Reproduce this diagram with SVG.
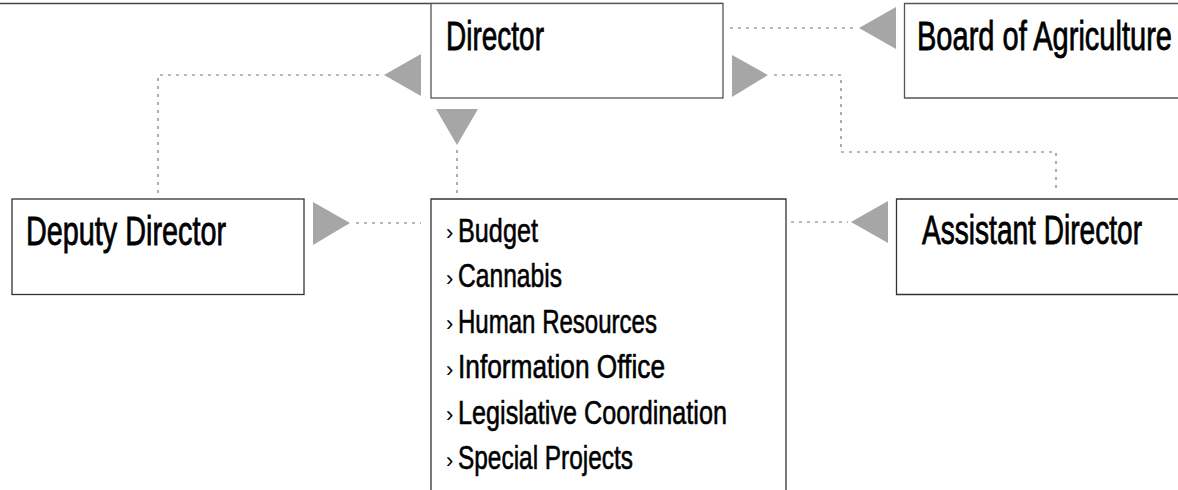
<svg xmlns="http://www.w3.org/2000/svg" width="1178" height="490" viewBox="0 0 1178 490">
<style>
.box{fill:#fff;stroke:#333;stroke-width:1.3}
.boxtop{fill:#fff;stroke:#555;stroke-width:1.3}
.h{font-family:"Liberation Sans Narrow","Liberation Sans","DejaVu Sans Condensed",sans-serif;font-size:41px;fill:#000;stroke:#000;stroke-width:0.8}
.li{font-family:"Liberation Sans Narrow","Liberation Sans","DejaVu Sans Condensed",sans-serif;font-size:34px;fill:#000;stroke:#000;stroke-width:0.6}
.ch{font-family:"Liberation Sans Narrow","Liberation Sans",sans-serif;font-size:22px;fill:#000}
.dot{fill:none;stroke:#777;stroke-width:1.2;stroke-dasharray:3 5}
.arr{fill:#a6a6a6}
</style>
<rect width="1178" height="490" fill="#fff"/>
<line x1="0" y1="3.5" x2="723" y2="3.5" stroke="#444" stroke-width="1.5"/>
<g id="director">
<rect class="boxtop" x="431" y="3.5" width="292" height="94.5"/>
<text class="h" x="446" y="50" textLength="98" lengthAdjust="spacingAndGlyphs">Director</text>
</g>
<g id="board">
<path class="boxtop" d="M1178,3.5 H904.5 V98 H1178"/>
<text class="h" x="917" y="50" textLength="255" lengthAdjust="spacingAndGlyphs">Board of Agriculture</text>
</g>
<g id="deputy">
<rect class="box" x="12" y="199" width="292" height="95.5"/>
<text class="h" x="26" y="245" textLength="200" lengthAdjust="spacingAndGlyphs">Deputy Director</text>
</g>
<g id="assistant">
<path class="box" d="M1178,199 H896.5 V294.5 H1178"/>
<text class="h" x="922" y="244" textLength="220" lengthAdjust="spacingAndGlyphs">Assistant Director</text>
</g>
<g id="units">
<path class="box" d="M431,500 V199 H786 V500"/>
<text class="ch" x="446" y="240">›</text>
<text class="li" x="458" y="241.5" textLength="80" lengthAdjust="spacingAndGlyphs">Budget</text>
<text class="ch" x="446" y="285.5">›</text>
<text class="li" x="458" y="287" textLength="104" lengthAdjust="spacingAndGlyphs">Cannabis</text>
<text class="ch" x="446" y="331">›</text>
<text class="li" x="458" y="332.5" textLength="199" lengthAdjust="spacingAndGlyphs">Human Resources</text>
<text class="ch" x="446" y="376.5">›</text>
<text class="li" x="458" y="378" textLength="207" lengthAdjust="spacingAndGlyphs">Information Office</text>
<text class="ch" x="446" y="422">›</text>
<text class="li" x="458" y="423.5" textLength="269" lengthAdjust="spacingAndGlyphs">Legislative Coordination</text>
<text class="ch" x="446" y="467.5">›</text>
<text class="li" x="458" y="469" textLength="175" lengthAdjust="spacingAndGlyphs">Special Projects</text>
</g>
<g id="connectors">
<path class="dot" d="M158,193 V75 H380"/>
<polygon class="arr" points="384,75 421,54 421,96"/>
<path class="dot" d="M457,193 V150"/>
<polygon class="arr" points="436,109 478,109 457,145"/>
<path class="dot" d="M730,28 H856"/>
<polygon class="arr" points="859,28 896,7 896,49"/>
<polygon class="arr" points="732,55 732,97 768,75"/>
<path class="dot" d="M774,75 H841 V152 H1056 V192"/>
<polygon class="arr" points="313,202 313,245 350,223"/>
<path class="dot" d="M356,223 H421"/>
<path class="dot" d="M791,222 H848"/>
<polygon class="arr" points="851,222 888,201 888,243"/>
</g>
</svg>
